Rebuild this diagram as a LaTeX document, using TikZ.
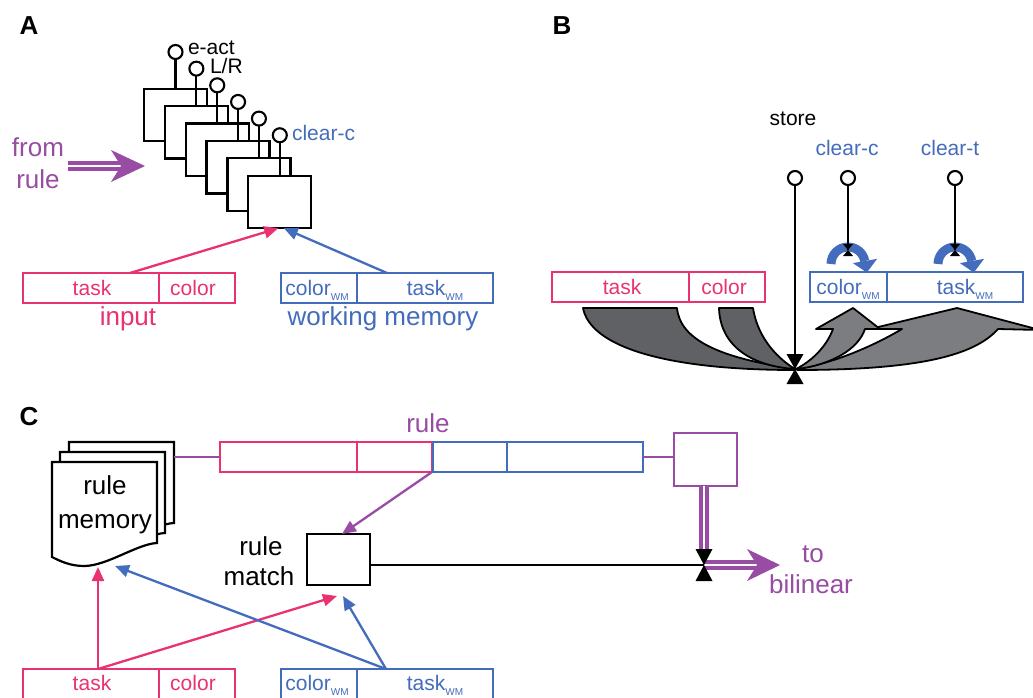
\documentclass[tikz,border=0pt]{standalone}
\usepackage{fontspec}
\setmainfont{Liberation Sans}
\usetikzlibrary{arrows.meta}
\definecolor{cpink}{RGB}{233,50,112}
\definecolor{cblue}{RGB}{68,108,188}
\definecolor{cpurp}{RGB}{152,76,163}
\definecolor{gdark}{RGB}{96,97,101}
\definecolor{glight}{RGB}{124,125,128}
\newcommand\wmsub{\raisebox{-5pt}{\fontsize{10}{10}\selectfont WM}}
\newcommand\mybow[3]{\fill (#1) -- ++(-#2,-#3) -- ++(2*#2,0) -- cycle; \fill (#1) -- ++(-#2,#3) -- ++(2*#2,0) -- cycle;}
\begin{document}
\begin{tikzpicture}[x=1pt,y=-1pt,
 every node/.style={inner sep=0pt, outer sep=0pt},
 lbl/.style={font=\fontsize{26}{30}\selectfont, anchor=base},
 sml/.style={font=\fontsize{21}{25}\selectfont, anchor=base},
 panel/.style={font=\fontsize{26}{30}\selectfont\bfseries, anchor=base},
 cell/.style={draw, line width=1.9pt, minimum height=30pt, anchor=north west},
 stk/.style={draw, fill=white, line width=2.3pt, minimum width=63pt, minimum height=52.5pt, anchor=north west},
 lolly/.style={circle, draw, fill=white, line width=2.1pt, minimum size=14pt},
 wire/.style={line width=2.2pt},
 arr/.style={line width=2.3pt, -{Triangle[length=14pt,width=12pt]}},
 dbl/.style={cpurp, line width=3.4pt, double=white, double distance=2.4pt},
 gshape/.style={draw=black, line width=1.8pt, line join=round},
]
\useasboundingbox (0,0) rectangle (1033,698);
\fill[white] (0,0) rectangle (1033,698);

% ---------- panel labels
\node[panel] (lA) at (29,35) {A};
\node[panel] (lB) at (562,35) {B};
\node[panel] (lC) at (29,425) {C};

% ---------- Panel A
\foreach \k in {0,...,5}{
  \node[stk] (a\k) at ({144+20.86*\k},{88.7+17.4*\k}) {};
  \node[lolly] (ca\k) at ({175.5+20.86*\k},{52+16.65*\k}) {};
  \draw[wire] (a\k.north) -- (ca\k.south);
}
\node[sml, anchor=base west] (eact) at (188,55) {e-act};
\node[sml, anchor=base west] (lr) at (210,74) {L/R};
\node[sml, anchor=base west, text=cblue] (clrA) at (292,141) {clear-c};

\node[lbl, text=cpurp] (fromtxt) at (38,157) {from};
\node[lbl, text=cpurp] (ruletxt) at (38,188) {rule};
\coordinate (fa0) at (68,166);
\coordinate (fa1) at (124,166);
\coordinate (faT) at (145,166);
\draw[dbl] (fa0) -- (fa1);
\fill[cpurp] (faT) -- ++(-34,-16) -- ++(10,16) -- ++(-10,16) -- cycle;

\node[cell, cpink, minimum width=136pt] (inAT) at (23,273) {};
\node[cell, cpink, minimum width=76pt] (inAC) at (159,273) {};
\node[sml, text=cpink] at (92,295) {task};
\node[sml, text=cpink] at (193,295) {color};
\node[lbl, text=cpink] (inputtxt) at (128,325) {input};

\node[cell, cblue, minimum width=76pt] (wmAC) at (281,273) {};
\node[cell, cblue, minimum width=136pt] (wmAT) at (357,273) {};
\node[sml, text=cblue] at (317,295) {color\wmsub};
\node[sml, text=cblue] at (435,295) {task\wmsub};
\node[lbl, text=cblue] (wmtxt) at (383,325) {working memory};

\draw[arr, cpink] ([xshift=39pt]inAT.north) -- ([xshift=-1.5pt]a5.south);
\draw[arr, cblue] ([xshift=-38pt]wmAT.north) -- ([xshift=4pt]a5.south);

% ---------- Panel B
\node[sml] (store) at (793,125) {store};
\node[sml, text=cblue] (clrc) at (847,155) {clear-c};
\node[sml, text=cblue] (clrt) at (950,155) {clear-t};

\node[cell, cpink, minimum width=137pt] (bT) at (552,272) {};
\node[cell, cpink, minimum width=76pt] (bC) at (689,272) {};
\node[sml, text=cpink] at (622,294) {task};
\node[sml, text=cpink] at (724,294) {color};
\node[cell, cblue, minimum width=77pt] (bwC) at (810,272) {};
\node[cell, cblue, minimum width=136pt] (bwT) at (887,272) {};
\node[sml, text=cblue] at (848,294) {color\wmsub};
\node[sml, text=cblue] at (965,294) {task\wmsub};

% gray flows
\filldraw[fill=glight, gshape] (797,370) .. controls (920,370) and (975,355) .. (998,329) -- (1040,330) -- (957,308) -- (870,329) -- (902,329) .. controls (880,342) and (840,362) .. (797,369) -- cycle;
\filldraw[fill=glight, gshape] (796,369) .. controls (810,362) and (826,348) .. (833,329) -- (816,329) -- (853,308) -- (880,329) -- (865,329) .. controls (858,350) and (830,365) .. (797,369) -- cycle;
\filldraw[fill=gdark, gshape] (583,308) -- (677,308) .. controls (680,340) and (720,358) .. (795,369) -- (795,370) .. controls (660,370) and (590,345) .. (583,308) -- cycle;
\filldraw[fill=gdark, gshape] (719,308) -- (753,308) .. controls (758,340) and (780,360) .. (795,369) .. controls (750,366) and (720,345) .. (719,308) -- cycle;

\node[lolly] (cs) at (795,178) {};
\node[lolly] (cc) at (848,178) {};
\node[lolly] (ct) at (955,178) {};
\coordinate (bwS) at (795,369);
\coordinate (bwc) at (848,250);
\coordinate (bwt) at (955,250);

% blue clear arcs
\foreach \cx in {848,955}{
  \begin{scope}[shift={(\cx,264)}]
    \draw[cblue, line width=9pt] (-17,0) arc[start angle=180, end angle=350, radius=17];
    \fill[cblue] (4.9,-0.9) -- (29,-5.1) -- (18.8,8.5) -- cycle;
  \end{scope}
}
\draw[wire] (cs.south) -- (bwS);
\draw[wire] (cc.south) -- (bwc);
\draw[wire] (ct.south) -- (bwt);
\mybow{bwS}{8.5}{15}
\mybow{bwc}{5}{6}
\mybow{bwt}{5}{6}

% ---------- Panel C
\foreach \dx/\dy in {17/-20, 8/-10, 0/0}{
  \filldraw[fill=white, draw=black, line width=2.2pt, shift={(52+\dx,462+\dy)}]
    (0,0) -- (105,0) -- (105,81) .. controls (85,82) and (55,104) .. (32,104)
    .. controls (18,104) and (8,99) .. (0,95) -- cycle;
}
\node[minimum width=105pt, minimum height=96pt, anchor=north west] (rmem) at (52,462) {};
\node[lbl] at (105,494) {rule};
\node[lbl] at (105,528) {memory};
\coordinate (rmback) at (174,457);

\node[cell, cpink, minimum width=137pt] (rg1) at (220,442) {};
\node[cell, cpink, minimum width=75pt] (rg2) at (357,442) {};
\node[cell, cblue, minimum width=74pt] (rg3) at (433,442) {};
\node[cell, cblue, minimum width=136pt] (rg4) at (507,442) {};
\node[lbl, text=cpurp] (rulelbl) at (428,432) {rule};
\draw[cpurp, line width=1.8pt] (rmback) -- (rg1.west);

\node[draw=cpurp, line width=1.9pt, minimum width=63pt, minimum height=53pt, anchor=north west] (pbox) at (674,433) {};
\draw[cpurp, line width=1.8pt] (rg4.east) -- (rg4.east -| pbox.west);

\node[draw, line width=2.3pt, minimum width=63pt, minimum height=51pt, anchor=north west] (rmatch) at (307,534) {};
\node[lbl] at (261,555) {rule};
\node[lbl] at (259,585) {match};

\coordinate (bwCC) at (704,565);
\coordinate (bwCtop) at (704,549);
\coordinate (toT) at (780,565);
\draw[wire] (rmatch.east |- bwCC) -- (bwCC);
\draw[dbl] (pbox.south -| bwCC) -- (bwCtop);
\draw[dbl] (bwCC) -- (758,565);
\fill[cpurp] (toT) -- ++(-33,-16) -- ++(10,16) -- ++(-10,16) -- cycle;
\mybow{bwCC}{8.5}{16}
\node[lbl, text=cpurp] (totxt) at (813,562) {to};
\node[lbl, text=cpurp] (biltxt) at (811,593) {bilinear};

\node[cell, cpink, minimum width=136pt] (inCT) at (23,669) {};
\node[cell, cpink, minimum width=76pt] (inCC) at (159,669) {};
\node[sml, text=cpink] at (92,690) {task};
\node[sml, text=cpink] at (193,690) {color};
\node[cell, cblue, minimum width=76pt] (wmCC) at (281,669) {};
\node[cell, cblue, minimum width=136pt] (wmCT) at (357,669) {};
\node[sml, text=cblue] at (317,690) {color\wmsub};
\node[sml, text=cblue] at (435,690) {task\wmsub};

\draw[arr, cpurp] (rg2.south east) -- ([xshift=3.5pt]rmatch.north);
\draw[arr, cpink] ([xshift=7pt]inCT.north) -- ([xshift=-6.5pt,yshift=-9pt]rmem.south);
\draw[arr, cpink] ([xshift=7pt]inCT.north) -- ([xshift=-1.5pt,yshift=-11pt]rmatch.south);
\draw[arr, cblue] ([xshift=-39pt]wmCT.north) -- ([xshift=10.5pt,yshift=-8pt]rmem.south);
\draw[arr, cblue] ([xshift=-39pt]wmCT.north) -- ([xshift=4.5pt,yshift=-11pt]rmatch.south);
\end{tikzpicture}
\end{document}
